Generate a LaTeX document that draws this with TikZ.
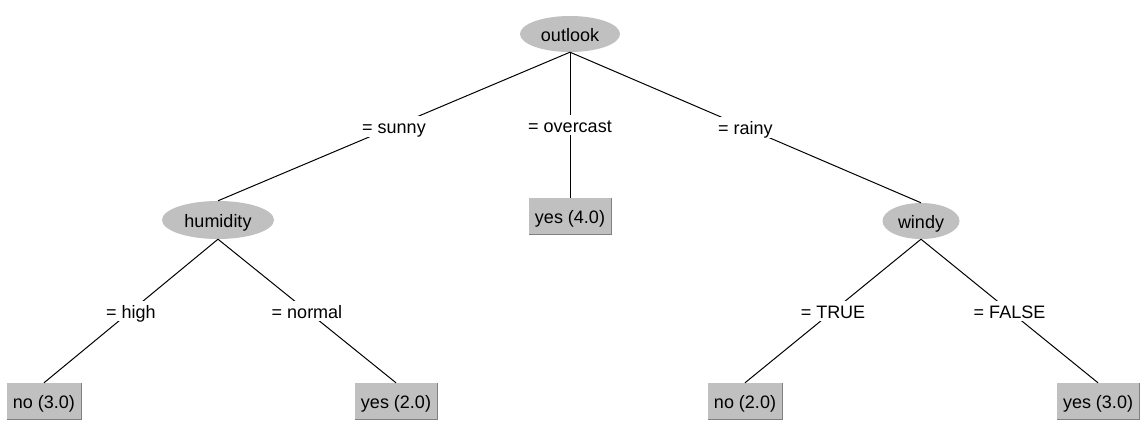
\documentclass[tikz,border=0pt]{standalone}
\usepackage{fontspec}
\setmainfont{Liberation Sans}
\usetikzlibrary{shapes.geometric}
\definecolor{nodegray}{HTML}{C0C0C0}
\definecolor{shadegray}{HTML}{808080}
\tikzset{
  txt/.style={font=\fontsize{18}{21}\selectfont, text height=15.5pt, text depth=1pt},
  attr/.style={txt, ellipse, fill=nodegray, inner sep=0pt},
  leaf/.style={txt, rectangle, fill=nodegray, inner xsep=6pt, inner ysep=0pt, minimum height=36pt},
  lbl/.style={txt, fill=white, inner xsep=3pt, inner ysep=2pt},
  edge/.style={draw=black, line width=1pt},
}
\newcommand{\bevel}[1]{%
  \draw[white, line width=1pt] (#1.south west) -- (#1.north west) -- (#1.north east);
  \draw[shadegray, line width=1pt] (#1.north east) -- (#1.south east) -- (#1.south west);
}
\begin{document}
\begin{tikzpicture}[x=1pt,y=-1pt]
\fill[white] (0,0) rectangle (1143,433);
\useasboundingbox (0,0) rectangle (1143,433);

\node[attr, minimum width=100pt, minimum height=36pt] (outlook) at (570,34) {outlook};
\node[attr, minimum width=112pt, minimum height=38pt] (humidity) at (218,220) {humidity};
\node[attr, minimum width=77pt, minimum height=36pt] (windy) at (921,221) {windy};

\node[leaf] (yes4) at (570,216) {yes (4.0)};
\node[leaf] (no3) at (44,401) {no (3.0)};
\node[leaf] (yes2) at (396,401) {yes (2.0)};
\node[leaf] (no2) at (745,401) {no (2.0)};
\node[leaf] (yes3) at (1098,401) {yes (3.0)};

\foreach \n in {yes4,no3,yes2,no2,yes3} {\bevel{\n}}

\draw[edge] (outlook.south) -- node[lbl] (l1) {= sunny} (humidity.north);
\draw[edge] (outlook.south) -- node[lbl] (l2) {= overcast} (yes4.north);
\draw[edge] (outlook.south) -- node[lbl] (l3) {= rainy} (windy.north);
\draw[edge] (humidity.south) -- node[lbl] (l4) {= high} (no3.north);
\draw[edge] (humidity.south) -- node[lbl] (l5) {= normal} (yes2.north);
\draw[edge] (windy.south) -- node[lbl] (l6) {= TRUE} (no2.north);
\draw[edge] (windy.south) -- node[lbl] (l7) {= FALSE} (yes3.north);
\end{tikzpicture}
\end{document}
